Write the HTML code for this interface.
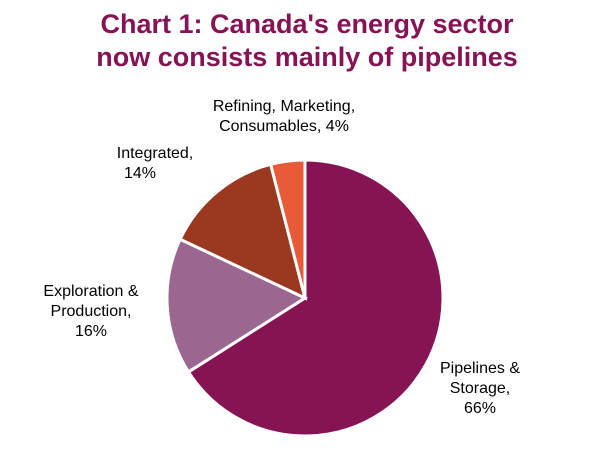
<!DOCTYPE html>
<html><head><meta charset="utf-8"><style>
body{margin:0;width:606px;height:452px;background:#fff;overflow:hidden}
svg{display:block;font-family:"Liberation Sans",Arial,sans-serif}
</style></head><body>
<svg id="chart" width="606" height="452">
<text x="307" y="33" text-anchor="middle" font-size="27" font-weight="bold" fill="#861455">Chart 1: Canada's energy sector</text>
<text x="307" y="66" text-anchor="middle" font-size="27" font-weight="bold" fill="#861455">now consists mainly of pipelines</text>
<g id="slices"></g>
<g font-size="16" fill="#000" text-anchor="middle">
<text><tspan x="284" y="111">Refining, Marketing,</tspan><tspan x="284" y="131">Consumables, 4%</tspan></text>
<text><tspan x="155" y="158">Integrated,</tspan><tspan x="124" y="178" text-anchor="start">14%</tspan></text>
<text><tspan x="91" y="296">Exploration &amp;</tspan><tspan x="91" y="316">Production,</tspan><tspan x="91" y="336">16%</tspan></text>
<text><tspan x="480" y="373">Pipelines &amp;</tspan><tspan x="480" y="393">Storage,</tspan><tspan x="480" y="413">66%</tspan></text>
</g>
</svg>
<script>
const categories=["Pipelines & Storage","Exploration & Production","Integrated","Refining, Marketing, Consumables"];
const values=[66,16,14,4];
const colors=["#861455","#9B6690","#9A3820","#E85A38"];
const cx=305,cy=298,r=138;
const g=document.getElementById('slices');
const total=values.reduce((a,b)=>a+b,0);
let a0=0;
values.forEach((v,i)=>{
  const a1=a0+v/total*2*Math.PI;
  const x0=cx+r*Math.sin(a0),y0=cy-r*Math.cos(a0);
  const x1=cx+r*Math.sin(a1),y1=cy-r*Math.cos(a1);
  const large=(a1-a0)>Math.PI?1:0;
  const p=document.createElementNS('http://www.w3.org/2000/svg','path');
  p.setAttribute('d',`M${cx},${cy}L${x0},${y0}A${r},${r} 0 ${large} 1 ${x1},${y1}Z`);
  p.setAttribute('fill',colors[i]);
  p.setAttribute('stroke','#fff');
  p.setAttribute('stroke-width','3');
  
  
  g.appendChild(p);
  a0=a1;
});
</script>
</body></html>
